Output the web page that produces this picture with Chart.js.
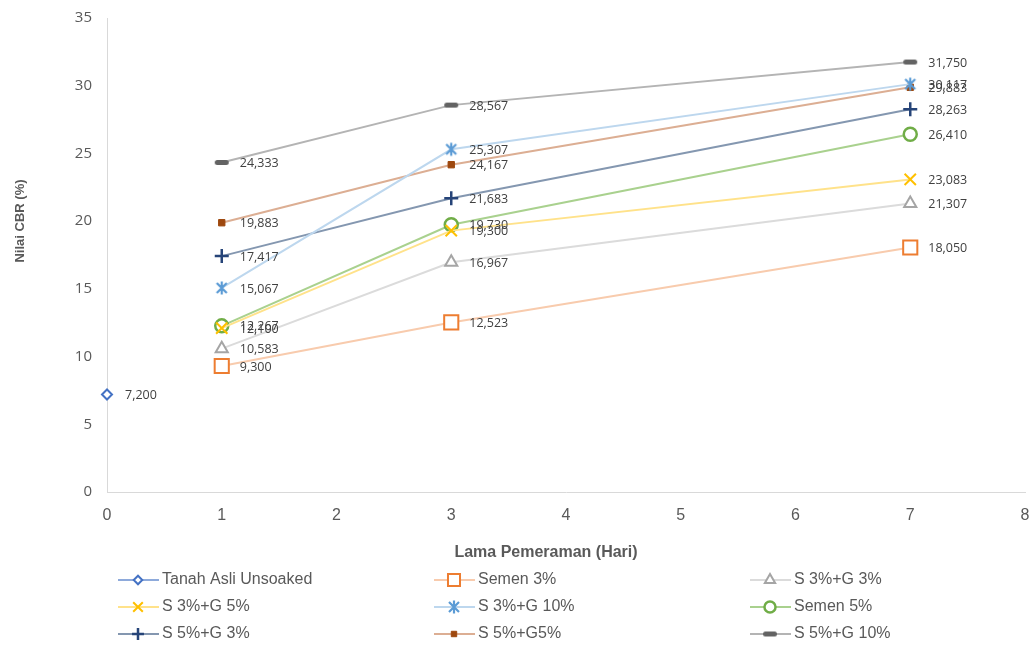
<!DOCTYPE html>
<html>
<head>
<meta charset="utf-8">
<script src="https://cdn.jsdelivr.net/npm/chart.js@4.4.1/dist/chart.umd.min.js"></script>
<style>
  html, body { margin: 0; padding: 0; background: #ffffff; }
  #wrap { width: 1035px; height: 651px; position: relative; }
</style>
</head>
<body>
<div id="wrap"><canvas id="cbr"></canvas></div>
<script>
// Curing time (days) and CBR values (%) per mix
const hariAwal = [0];
const hari = [1, 3, 7];
const tanahAsli = [7.200];
const semen3 = [9.300, 12.523, 18.050];
const s3g3 = [10.583, 16.967, 21.307];
const s3g5 = [12.100, 19.300, 23.083];
const s3g10 = [15.067, 25.307, 30.117];
const semen5 = [12.267, 19.730, 26.410];
const s5g3 = [17.417, 21.683, 28.263];
const s5g5 = [19.883, 24.167, 29.883];
const s5g10 = [24.333, 28.567, 31.750];
const namaSeri = ['Tanah Asli Unsoaked', 'Semen 3%', 'S 3%+G 3%', 'S 3%+G 5%', 'S 3%+G 10%',
                  'Semen 5%', 'S 5%+G 3%', 'S 5%+G5%', 'S 5%+G 10%'];
const yTicks = [0, 5, 10, 15, 20, 25, 30, 35];
const xTicks = [0, 1, 2, 3, 4, 5, 6, 7, 8];
const judulX = 'Lama Pemeraman (Hari)';
const judulY = 'Nilai CBR (%)';

const NARROW = '"Liberation Sans Narrow", "Liberation Sans", sans-serif';
const TEXT = '#595959';

function pts(xs, ys) { return ys.map((v, i) => ({ x: xs[i], y: v })); }

// Asterisk marker: an X with a vertical bar through it
function starMarker(color) {
  const c = document.createElement('canvas');
  c.width = 16; c.height = 16;
  const g = c.getContext('2d');
  g.strokeStyle = color; g.lineWidth = 2.2; g.lineCap = 'butt';
  g.beginPath();
  g.moveTo(3, 3); g.lineTo(13, 13);
  g.moveTo(13, 3); g.lineTo(3, 13);
  g.moveTo(8, 1.5); g.lineTo(8, 14.5);
  g.stroke();
  return c;
}
// Short thick bar marker
function dashMarker(color, w, h) {
  const c = document.createElement('canvas');
  c.width = w + 2; c.height = h + 2;
  const g = c.getContext('2d');
  g.fillStyle = color;
  const r = h / 2;
  g.beginPath();
  g.moveTo(1 + r, 1); g.lineTo(1 + w - r, 1);
  g.arc(1 + w - r, 1 + r, r, -Math.PI / 2, Math.PI / 2);
  g.lineTo(1 + r, 1 + h);
  g.arc(1 + r, 1 + r, r, Math.PI / 2, Math.PI * 1.5);
  g.fill();
  return c;
}

const styles = [
  { line: '#8eaadb', mark: '#4472C4', pointStyle: 'rectRot', radius: 5, bw: 2, fill: '#ffffff' },
  { line: '#f8cbad', mark: '#ED7D31', pointStyle: 'rect', radius: 10, bw: 2, fill: '#ffffff' },
  { line: '#dbdbdb', mark: '#A5A5A5', pointStyle: 'triangle', radius: 7, bw: 2, fill: '#ffffff' },
  { line: '#ffe28a', mark: '#FFC000', pointStyle: 'crossRot', radius: 8, bw: 2, fill: '#ffffff' },
  { line: '#bdd7ee', mark: '#5B9BD5', pointStyle: starMarker('#5B9BD5'), radius: 8, bw: 2, fill: '#ffffff' },
  { line: '#a9d18e', mark: '#70AD47', pointStyle: 'circle', radius: 6.5, bw: 2.5, fill: '#ffffff' },
  { line: '#8497b0', mark: '#264478', pointStyle: 'cross', radius: 7, bw: 2.5, fill: '#264478' },
  { line: '#dcae93', mark: '#9E480E', pointStyle: 'rect', radius: 4.5, bw: 1, fill: '#9E480E' },
  { line: '#b4b4b4', mark: '#636363', pointStyle: dashMarker('#636363', 14, 5), radius: 7, bw: 1, fill: '#636363' }
];

const seriesData = [
  pts(hariAwal, tanahAsli), pts(hari, semen3), pts(hari, s3g3), pts(hari, s3g5), pts(hari, s3g10),
  pts(hari, semen5), pts(hari, s5g3), pts(hari, s5g5), pts(hari, s5g10)
];

const datasets = seriesData.map((d, i) => ({
  label: namaSeri[i],
  data: d,
  borderColor: styles[i].line,
  borderWidth: 2,
  pointStyle: styles[i].pointStyle,
  pointRadius: styles[i].radius,
  pointHoverRadius: styles[i].radius,
  pointBorderWidth: styles[i].bw,
  pointBorderColor: styles[i].mark,
  pointBackgroundColor: styles[i].fill,
  tension: 0,
  fill: false,
  clip: false
}));

// Value labels to the right of each marker, decimal comma
const valueLabels = {
  id: 'valueLabels',
  afterDatasetsDraw(chart) {
    const ctx = chart.ctx;
    ctx.save();
    ctx.font = '12.5px "Open Sans", sans-serif';
    ctx.fillStyle = '#404040';
    ctx.textAlign = 'left';
    ctx.textBaseline = 'middle';
    chart.data.datasets.forEach((ds, i) => {
      chart.getDatasetMeta(i).data.forEach((p, j) => {
        const v = ds.data[j].y;
        ctx.fillText(v.toFixed(3).replace('.', ','), p.x + 18, p.y + 1);
      });
    });
    ctx.restore();
  }
};

// Axis titles, placed relative to the whole figure
const axisTitles = {
  id: 'axisTitles',
  afterDraw(chart) {
    const ctx = chart.ctx;
    ctx.save();
    ctx.fillStyle = TEXT;
    ctx.textAlign = 'center';
    ctx.textBaseline = 'middle';
    ctx.font = 'bold 16px ' + NARROW;
    ctx.fillText(judulX, 546, 553);
    ctx.translate(20, 221);
    ctx.rotate(-Math.PI / 2);
    ctx.font = 'bold 13px ' + NARROW;
    ctx.fillText(judulY, 0, 0);
    ctx.restore();
  }
};

// Three-column legend with line + marker samples
const gridLegend = {
  id: 'gridLegend',
  afterDraw(chart) {
    const ctx = chart.ctx;
    const cols = [118, 434, 750];
    const rows = [580, 607, 634];
    ctx.save();
    chart.data.datasets.forEach((ds, i) => {
      const x0 = cols[i % 3];
      const y = rows[Math.floor(i / 3)];
      ctx.strokeStyle = ds.borderColor;
      ctx.lineWidth = 2;
      ctx.beginPath();
      ctx.moveTo(x0, y); ctx.lineTo(x0 + 41, y);
      ctx.stroke();
      ctx.strokeStyle = ds.pointBorderColor;
      ctx.fillStyle = ds.pointBackgroundColor;
      ctx.lineWidth = ds.pointBorderWidth;
      Chart.helpers.drawPoint(ctx, {
        pointStyle: ds.pointStyle,
        radius: ds.pointRadius * 0.85,
        rotation: 0,
        borderWidth: ds.pointBorderWidth
      }, x0 + 20, y);
      ctx.fillStyle = TEXT;
      ctx.font = '16px ' + NARROW;
      ctx.textAlign = 'left';
      ctx.textBaseline = 'middle';
      ctx.fillText(ds.label, x0 + 44, y);
    });
    ctx.restore();
  }
};

new Chart(document.getElementById('cbr'), {
  type: 'line',
  data: { datasets },
  plugins: [valueLabels, axisTitles, gridLegend],
  options: {
    responsive: true,
    maintainAspectRatio: false,
    animation: false,
    layout: { autoPadding: false, padding: { top: 18, right: 10, bottom: 85, left: 0 } },
    plugins: { legend: { display: false }, tooltip: { enabled: false } },
    scales: {
      x: {
        type: 'linear',
        min: 0, max: 8,
        afterBuildTicks(s) { s.ticks = xTicks.map(v => ({ value: v })); },
        afterFit(s) { s.height = 74; s.paddingLeft = 0; s.paddingRight = 0; },
        grid: { display: false, drawTicks: false },
        border: { display: true, color: '#d9d9d9', width: 1 },
        ticks: { padding: 14, color: TEXT, font: { family: NARROW, size: 16 } },
        title: { display: false }
      },
      y: {
        type: 'linear',
        min: 0, max: 35,
        afterBuildTicks(s) { s.ticks = yTicks.map(v => ({ value: v })); },
        afterFit(s) { s.width = 107; s.paddingTop = 0; s.paddingBottom = 0; },
        grid: { display: false, drawTicks: false },
        border: { display: true, color: '#d9d9d9', width: 1 },
        ticks: { padding: 15, color: TEXT, font: { family: '"Open Sans", sans-serif', size: 15 } },
        title: { display: false }
      }
    }
  }
});
</script>
</body>
</html>
